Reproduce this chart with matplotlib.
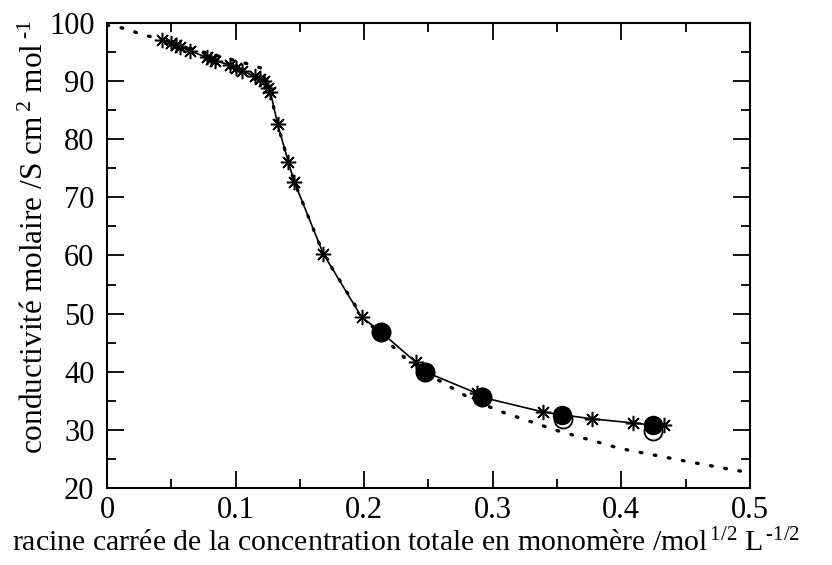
import numpy as np
import matplotlib
matplotlib.use("Agg")
import matplotlib.pyplot as plt

plt.rcParams['font.family'] = ['Liberation Serif', 'DejaVu Serif']
plt.rcParams['mathtext.fontset'] = 'custom'
plt.rcParams['mathtext.rm'] = 'Liberation Serif'
plt.rcParams['mathtext.it'] = 'Liberation Serif:italic'

# measured points (stars)
star_x = [0.0425, 0.0500, 0.0540, 0.0568, 0.0645, 0.0775, 0.0810, 0.0840,
          0.0956, 0.1000, 0.1047, 0.1150, 0.1190, 0.1220, 0.1255, 0.1270,
          0.1327, 0.1410, 0.1456, 0.1682, 0.1980, 0.2403, 0.2875, 0.3388,
          0.3769, 0.4088, 0.4334]
star_y = [97.1, 96.5, 96.2, 95.9, 95.2, 94.1, 93.8, 93.5,
          92.8, 92.2, 91.8, 90.8, 90.4, 90.1, 88.8, 88.2,
          82.6, 76.1, 72.7, 60.3, 49.4, 41.6, 36.3, 33.1,
          31.9, 31.2, 30.8]

# filled and open circles
fill_x = [0.2128, 0.2473, 0.2918, 0.3540, 0.4248]
fill_y = [46.9, 40.0, 35.6, 32.6, 30.8]
open_x = [0.2128, 0.2473, 0.2918, 0.3548, 0.4248]
open_y = [46.9, 40.0, 35.6, 31.8, 29.8]

# model curve (dotted)
model_x = [0.0, 0.0093, 0.0171, 0.0249, 0.0329, 0.05, 0.07, 0.09, 0.1125,
           0.1203, 0.1265, 0.1327, 0.1410, 0.1456, 0.1682, 0.1980, 0.2187,
           0.2310, 0.2582, 0.2802, 0.3030, 0.3497, 0.3990, 0.4456, 0.4897,
           0.5]
model_y = [99.6, 99.3, 98.8, 98.2, 97.7, 96.6, 95.3, 94.1, 92.8,
           92.2, 88.4, 82.6, 76.1, 72.7, 60.3, 49.6, 45.1,
           42.5, 38.5, 35.7, 33.4, 29.9, 26.8, 24.8, 23.0,
           22.7]

xticks = [0, 0.1, 0.2, 0.3, 0.4, 0.5]
xticklabels = ['0', '0.1', '0.2', '0.3', '0.4', '0.5']
yticks = [20, 30, 40, 50, 60, 70, 80, 90, 100]

fig = plt.figure(figsize=(8.32, 5.65), dpi=100)
ax = fig.add_axes([0.1286, 0.1363, 0.9014 - 0.1286, 0.9593 - 0.1363])

ax.plot(model_x, model_y, color='black', lw=2.4, linestyle=(0, (0.5, 3.8)),
        dash_capstyle='round', zorder=2)

line_x = np.array(star_x + fill_x)
line_y = np.array(star_y + fill_y)
order = np.argsort(line_x)
ax.plot(line_x[order], line_y[order], color='black', lw=1.2, zorder=3)

ax.plot(open_x, open_y, linestyle='none', marker='o', markersize=13,
        markerfacecolor='white', markeredgecolor='black', markeredgewidth=1.3,
        zorder=4)
ax.plot(fill_x, fill_y, linestyle='none', marker='o', markersize=13,
        color='black', zorder=5)
ax.plot(star_x, star_y, linestyle='none', marker=(8, 2, 0), markersize=11,
        color='black', markeredgewidth=1.1, zorder=6)

ax.set_xlim(0, 0.5)
ax.set_ylim(20, 100)
ax.set_xticks(xticks)
ax.set_xticklabels(xticklabels)
ax.set_yticks(yticks)
ax.set_xticks(np.arange(0.05, 0.5, 0.1), minor=True)
ax.set_yticks(np.arange(25, 100, 10), minor=True)

ax.tick_params(which='both', direction='in', top=True, right=True,
               width=1.3, labelsize=22)
ax.tick_params(which='major', length=12)
ax.tick_params(which='minor', length=6.5)
ax.tick_params(axis='x', pad=6)
ax.tick_params(axis='y', pad=9)
for s in ax.spines.values():
    s.set_linewidth(1.5)

ax.set_xlabel(r'racine carrée de la concentration totale en monomère /mol$^{\,1/2}$ L$^{\,\text{-1/2}}$',
              fontsize=21.5)
ax.set_ylabel(r'conductivité molaire /S cm$^{\;2}$ mol$^{\;\text{-1}}$', fontsize=22.5)
ax.xaxis.set_label_coords(0.465, -0.088)
ax.yaxis.set_label_coords(-0.088, 0.54)

fig.savefig('out.png', dpi=100)
